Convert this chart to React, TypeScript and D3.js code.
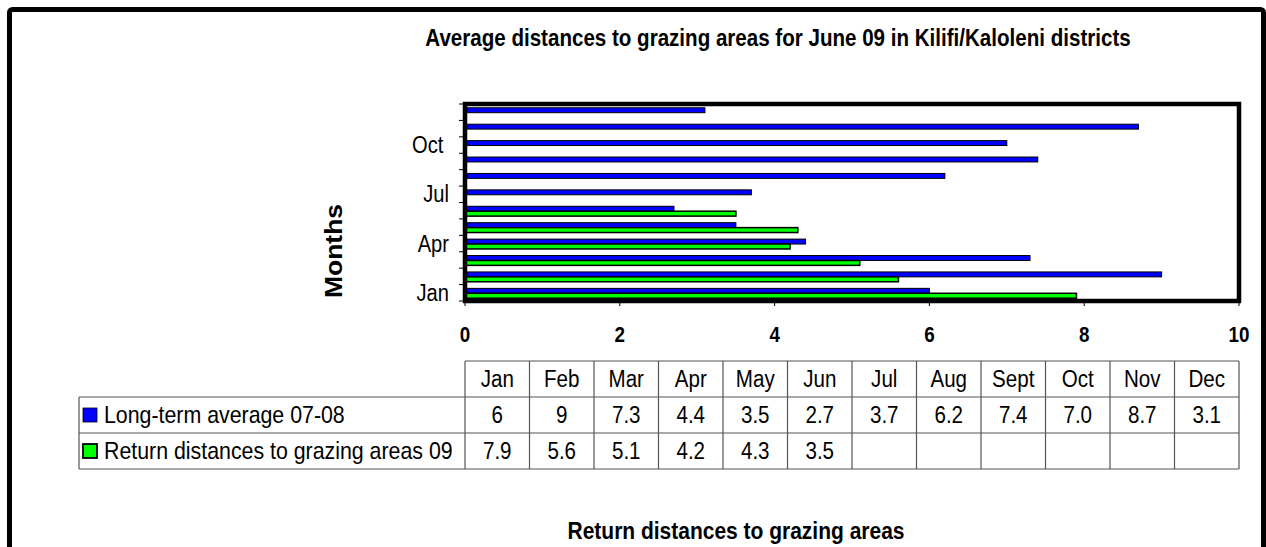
import React from 'react';
import * as d3 from 'd3';

const months = ['Jan', 'Feb', 'Mar', 'Apr', 'May', 'Jun', 'Jul', 'Aug', 'Sep', 'Oct', 'Nov', 'Dec'];
const tableMonths = ['Jan', 'Feb', 'Mar', 'Apr', 'May', 'Jun', 'Jul', 'Aug', 'Sept', 'Oct', 'Nov', 'Dec'];
const longTerm: number[] = [6, 9, 7.3, 4.4, 3.5, 2.7, 3.7, 6.2, 7.4, 7.0, 8.7, 3.1];
const longTermLabels = ['6', '9', '7.3', '4.4', '3.5', '2.7', '3.7', '6.2', '7.4', '7.0', '8.7', '3.1'];
const returns09: (number | null)[] = [7.9, 5.6, 5.1, 4.2, 4.3, 3.5, null, null, null, null, null, null];
const returnsLabels = ['7.9', '5.6', '5.1', '4.2', '4.3', '3.5', '', '', '', '', '', ''];
const xTicks = [0, 2, 4, 6, 8, 10];
const yLabelMonths = ['Jan', 'Apr', 'Jul', 'Oct'];
const yLabelText: Record<string, string> = { Jan: 'Jan', Apr: 'Apr', Jul: 'Jul', Oct: 'Oct ' };
const seriesNames = ['Long-term average 07-08', 'Return distances to grazing areas 09'];
const seriesColors = ['#0000FF', '#00FF00'];

const FONT = 'Liberation Sans, Arial, sans-serif';
const SX = 0.875; // horizontal squeeze of the reference's lettering

function T(props: {
  x: number;
  y: number;
  size: number;
  anchor?: 'start' | 'middle' | 'end';
  bold?: boolean;
  rotate?: boolean;
  children: React.ReactNode;
}) {
  const { x, y, size, anchor = 'start', bold, rotate, children } = props;
  const transform = rotate
    ? `translate(${x},${y}) rotate(-90) scale(1,${SX})`
    : `translate(${x},${y}) scale(${SX},1)`;
  return (
    <text
      transform={transform}
      textAnchor={anchor}
      fontSize={size}
      fontWeight={bold ? 'bold' : 'normal'}
      style={{ whiteSpace: 'pre' }}
    >
      {children}
    </text>
  );
}

export default function App() {
  const W = 1266, H = 547;
  const plot = { left: 465, right: 1239, top: 104, bottom: 301 };
  const x = d3.scaleLinear().domain([0, 10]).range([plot.left, plot.right]);
  const y = d3.scaleBand<string>().domain(months).range([plot.bottom, plot.top]).padding(0);
  const bw = y.bandwidth();
  const sub = d3.scaleBand<string>().domain(['long', 'ret']).range([bw * 0.23, bw * 0.83]).padding(0);
  const col = d3.scaleBand<string>().domain(tableMonths).range([plot.left, plot.right]).padding(0);
  const rowTops = [361, 397, 433, 469];
  const legendLeft = 79;
  const lineColor = '#555';

  const boundaries = d3.range(months.length + 1).map((i) => plot.bottom - i * bw);

  return (
    <svg width={W} height={H} style={{ position: 'absolute', left: 0, top: 0, background: '#fff' }} fontFamily={FONT}>
      <rect x={0} y={0} width={W} height={H} fill="#fff" />
      {/* outer frame */}
      <rect x={9.5} y={9.5} width={1254} height={600} rx={3} fill="none" stroke="#000" strokeWidth={5} />

      {/* title */}
      <T x={778} y={46} size={23.5} anchor="middle" bold>
        Average distances to grazing areas for June 09 in Kilifi/Kaloleni districts
      </T>

      {/* bars */}
      {months.map((m, i) => (
        <g key={m}>
          <rect
            x={x(0)}
            y={(y(m) as number) + (sub('long') as number)}
            width={x(longTerm[i]) - x(0)}
            height={sub.bandwidth()}
            fill={seriesColors[0]}
            stroke="#000"
            strokeWidth={1}
          />
          {returns09[i] != null && (
            <rect
              x={x(0)}
              y={(y(m) as number) + (sub('ret') as number)}
              width={x(returns09[i] as number) - x(0)}
              height={sub.bandwidth()}
              fill={seriesColors[1]}
              stroke="#000"
              strokeWidth={1.5}
            />
          )}
        </g>
      ))}

      {/* plot frame */}
      <rect
        x={plot.left}
        y={plot.top}
        width={plot.right - plot.left}
        height={plot.bottom - plot.top}
        fill="none"
        stroke="#000"
        strokeWidth={4.5}
      />

      {/* y ticks */}
      {boundaries.map((b, i) => (
        <line key={i} x1={plot.left - 6} x2={plot.left} y1={b} y2={b} stroke="#000" strokeWidth={1} />
      ))}
      {yLabelMonths.map((m) => (
        <T key={m} x={449} y={(y(m) as number) + bw / 2 + 8} anchor="end" size={23}>
          {yLabelText[m]}
        </T>
      ))}

      {/* x ticks */}
      {xTicks.map((t) => (
        <g key={t}>
          <line x1={x(t)} x2={x(t)} y1={plot.bottom} y2={plot.bottom + 5} stroke="#000" strokeWidth={1} />
          <T x={x(t)} y={342} anchor="middle" size={21.5} bold>
            {String(t)}
          </T>
        </g>
      ))}

      {/* y axis title */}
      <T x={342} y={251} anchor="middle" size={26.5} bold rotate>
        Months
      </T>

      {/* data table */}
      <g stroke={lineColor} strokeWidth={1.2} fill="none">
        <line x1={plot.left} x2={plot.right} y1={rowTops[0]} y2={rowTops[0]} />
        <line x1={legendLeft} x2={plot.right} y1={rowTops[1]} y2={rowTops[1]} />
        <line x1={legendLeft} x2={plot.right} y1={rowTops[2]} y2={rowTops[2]} />
        <line x1={legendLeft} x2={plot.right} y1={rowTops[3]} y2={rowTops[3]} />
        <line x1={legendLeft} x2={legendLeft} y1={rowTops[1]} y2={rowTops[3]} />
        {tableMonths.map((m) => (
          <line key={m} x1={col(m)} x2={col(m)} y1={rowTops[0]} y2={rowTops[3]} />
        ))}
        <line x1={plot.right} x2={plot.right} y1={rowTops[0]} y2={rowTops[3]} />
      </g>
      {tableMonths.map((m, i) => {
        const cx = (col(m) as number) + col.bandwidth() / 2;
        return (
          <g key={m}>
            <T x={cx} y={387} anchor="middle" size={23.5}>{m}</T>
            <T x={cx} y={423} anchor="middle" size={23.5}>{longTermLabels[i]}</T>
            <T x={cx} y={459} anchor="middle" size={23.5}>{returnsLabels[i]}</T>
          </g>
        );
      })}
      {seriesNames.map((s, i) => (
        <g key={s}>
          <rect
            x={83}
            y={rowTops[i + 1] + 11}
            width={14}
            height={14}
            fill={seriesColors[i]}
            stroke="#000"
            strokeWidth={i === 0 ? 0.8 : 1.8}
          />
          <T x={104} y={rowTops[i + 1] + 26} size={24.4}>
            {s}
          </T>
        </g>
      ))}

      {/* x axis title */}
      <T x={736} y={539} anchor="middle" size={24} bold>
        Return distances to grazing areas
      </T>
    </svg>
  );
}
